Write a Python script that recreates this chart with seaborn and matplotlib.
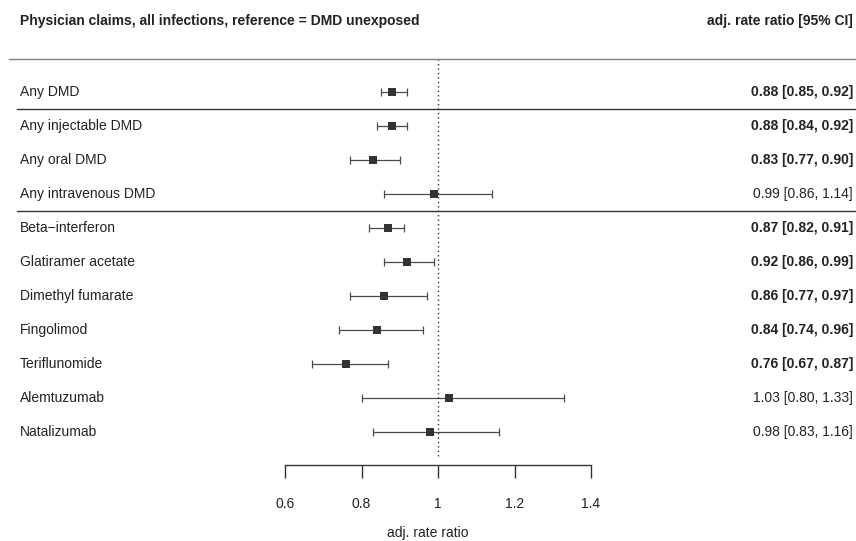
import matplotlib
matplotlib.use("Agg")
import matplotlib.pyplot as plt
import matplotlib.transforms as mtransforms
import seaborn as sns
import pandas as pd

labels = ["Any DMD", "Any injectable DMD", "Any oral DMD", "Any intravenous DMD",
          "Beta\u2212interferon", "Glatiramer acetate", "Dimethyl fumarate", "Fingolimod",
          "Teriflunomide", "Alemtuzumab", "Natalizumab"]
est = [0.88, 0.88, 0.83, 0.99, 0.87, 0.92, 0.86, 0.84, 0.76, 1.03, 0.98]
lo = [0.85, 0.84, 0.77, 0.86, 0.82, 0.86, 0.77, 0.74, 0.67, 0.80, 0.83]
hi = [0.92, 0.92, 0.90, 1.14, 0.91, 0.99, 0.97, 0.96, 0.87, 1.33, 1.16]
bold = [True, True, True, False, True, True, True, True, True, False, False]
ticks = [0.6, 0.8, 1.0, 1.2, 1.4]
tick_labels = ["0.6", "0.8", "1", "1.2", "1.4"]
title = "Physician claims, all infections, reference = DMD unexposed"
right_title = "adj. rate ratio [95% CI]"
xlabel = "adj. rate ratio"

df = pd.DataFrame({"label": labels, "est": est, "lo": lo, "hi": hi,
                   "row": list(range(len(labels)))})

sns.set_theme(style="white")
plt.rcParams['font.family'] = ['Liberation Sans', 'DejaVu Sans']

W, H = 856, 541
fig = plt.figure(figsize=(W / 100, H / 100), dpi=100)
ax = fig.add_axes([0, 0, 1, 1])

# pixel mapping
px_per_unit = (591 - 285) / 0.8
x0 = 0.6 - 285 / px_per_unit
x1 = 1.4 + (W - 591) / px_per_unit
row_px = 34.0
row0 = 92.0
y_top = -row0 / row_px
y_bot = (H - row0) / row_px
ax.set_xlim(x0, x1)
ax.set_ylim(y_bot, y_top)

def py(p):
    return (p - row0) / row_px

# CI lines
ax.errorbar(df["est"], df["row"], xerr=[df["est"] - df["lo"], df["hi"] - df["est"]],
            fmt="none", ecolor="#4a4a4a", elinewidth=0.9, capsize=2.6, capthick=0.9, zorder=2)
sns.scatterplot(data=df, x="est", y="row", marker="s", s=32, color="#333333",
                edgecolor="#333333", linewidth=0, ax=ax, zorder=3, legend=False)

# reference line
ax.vlines(1.0, py(59), py(456), colors="#333333", linestyles=(0, (1, 2.2)), linewidth=1.0)

# horizontal separators
ax.axhline(py(59), xmin=9 / W, xmax=1, color="#808080", linewidth=1.0)
ax.axhline(0.5, xmin=17 / W, xmax=1, color="#333333", linewidth=1.0)
ax.axhline(3.5, xmin=17 / W, xmax=1, color="#333333", linewidth=1.0)

# texts
trans = mtransforms.blended_transform_factory(ax.transAxes, ax.transData)
for i, row in df.iterrows():
    ax.text(20 / W, row["row"], row["label"], transform=trans, ha="left", va="center",
            fontsize=10, color="#222222")
    s = f"{row['est']:.2f} [{row['lo']:.2f}, {row['hi']:.2f}]"
    ax.text(853 / W, row["row"], s, transform=trans, ha="right", va="center",
            fontsize=10, color="#222222", fontweight="bold" if bold[i] else "normal")

ax.text(20 / W, py(21), title, transform=trans, ha="left", va="center",
        fontsize=10, fontweight="bold", color="#222222")
ax.text(853 / W, py(21), right_title, transform=trans, ha="right", va="center",
        fontsize=10, fontweight="bold", color="#222222")

# x axis
for s in ["top", "left", "right"]:
    ax.spines[s].set_visible(False)
ax.spines["bottom"].set_position(("data", py(465)))
ax.spines["bottom"].set_bounds(0.6, 1.4)
ax.spines["bottom"].set_color("#333333")
ax.spines["bottom"].set_linewidth(1.0)
ax.set_xticks(ticks)
ax.set_xticklabels(tick_labels)
ax.tick_params(axis="x", direction="out", length=9, width=1.0, color="#333333",
               pad=14, labelsize=10, labelcolor="#222222", bottom=True)
ax.set_yticks([])
ax.set_ylabel("")
ax.set_xlabel(xlabel, fontsize=10, color="#222222", labelpad=11)

fig.savefig("out.png", dpi=100)
